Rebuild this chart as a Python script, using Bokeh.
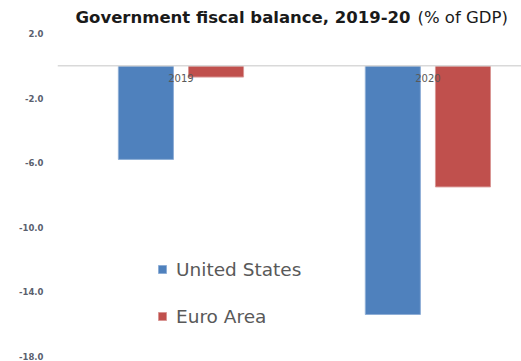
from bokeh.plotting import figure
from bokeh.models import Range1d, Span, Label, Legend, LegendItem, ColumnDataSource, FixedTicker
from bokeh.core.properties import value
from bokeh.embed import file_html
from bokeh.resources import INLINE

years = ["2019", "2020"]
us = [-5.8, -15.4]
ea = [-0.7, -7.5]
ticks = [2.0, -2.0, -6.0, -10.0, -14.0, -18.0]
title_bold = "Government fiscal balance, 2019-20"
title_norm = "(% of GDP)"

FONT = "DejaVu Sans"
GRAY = "#595959"

p = figure(width=521, height=361, output_backend="svg", toolbar_location=None,
           x_range=Range1d(-0.5, 1.379), y_range=Range1d(-18.31, 4.04),
           min_border_left=57, min_border_right=0, min_border_top=0, min_border_bottom=0)
p.outline_line_color = None
p.xgrid.visible = False
p.ygrid.visible = False
p.xaxis.visible = False
p.background_fill_color = "white"
p.border_fill_color = "white"

off = 0.142
w = 0.223
xs = list(range(len(years)))
src = ColumnDataSource(dict(x_us=[i - off for i in xs], x_ea=[i + off for i in xs], us=us, ea=ea,
                            xc=xs, yc=[0]*len(xs), lab=years))
r_us = p.vbar(x="x_us", top=0, bottom="us", width=w, source=src,
              fill_color="#4f81bd", line_color="#8eaed6", line_width=1)
r_ea = p.vbar(x="x_ea", top=0, bottom="ea", width=w, source=src,
              fill_color="#c0504d", line_color="#d99694", line_width=1)

p.add_layout(Span(location=0, dimension="width", line_color="#d9d9d9", line_width=1.5))

p.text(x="xc", y="yc", text="lab", source=src, text_align="center", text_baseline="middle",
       y_offset=12, text_font=value(FONT), text_font_size="10px", text_color=GRAY)

ax = p.yaxis[0]
ax.ticker = FixedTicker(ticks=ticks)
ax.major_label_overrides = {t: f"{t:.1f}" for t in ticks}
ax.axis_line_color = None
ax.major_tick_line_color = None
ax.minor_tick_line_color = None
ax.major_label_standoff = 8
ax.major_label_text_font = FONT
ax.major_label_text_font_size = "8.5px"
ax.major_label_text_font_style = "bold"
ax.major_label_text_color = "#5a5f6e"

legend = Legend(items=[LegendItem(label="United States", renderers=[r_us]),
                       LegendItem(label="Euro Area", renderers=[r_ea])],
                location=(100, 34), orientation="vertical",
                label_text_font=FONT, label_text_font_size="18.5px", label_text_color=GRAY,
                glyph_width=10, glyph_height=10, label_height=22, label_standoff=9,
                spacing=25, padding=0, margin=0, border_line_color=None,
                background_fill_alpha=0)
p.add_layout(legend, "center")

t1 = Label(x=18, y=361 - 17, x_units="screen", y_units="screen", text=title_bold,
           text_font=FONT, text_font_size="16.5px", text_font_style="bold", text_color="#1a1a1a",
           text_baseline="middle")
p.add_layout(t1)
t2 = Label(x=18 + 342, y=361 - 17, x_units="screen", y_units="screen", text=title_norm,
           text_font=FONT, text_font_size="16.5px", text_color="#1a1a1a", text_baseline="middle")
p.add_layout(t2)

open("out.html", "w").write(file_html(p, INLINE))
